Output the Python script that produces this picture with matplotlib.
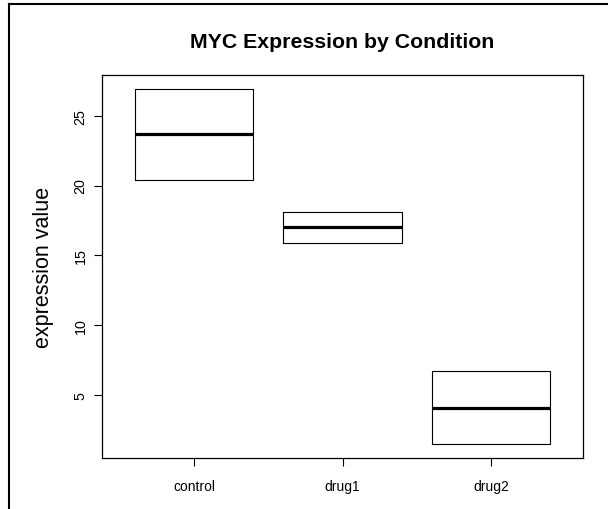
import matplotlib
matplotlib.use("Agg")
import matplotlib.pyplot as plt
from matplotlib.lines import Line2D

plt.rcParams["font.family"] = ["Liberation Sans", "DejaVu Sans"]

# Expression summary per condition
conditions = ["control", "drug1", "drug2"]
lower_hinge = [20.4, 15.9, 1.5]
median = [23.7, 17.0, 4.1]
upper_hinge = [26.9, 18.1, 6.7]
y_ticks = [5, 10, 15, 20, 25]

W, H, DPI = 608, 510, 100
fig = plt.figure(figsize=(W / DPI, H / DPI), dpi=DPI)
fig.patch.set_facecolor("white")

# plot region in pixels
left, right, top, bottom = 102, 583, 76, 459
ax = fig.add_axes([left / W, 1 - bottom / H, (right - left) / W, (bottom - top) / H])

stats = []
for name, lo, md, hi in zip(conditions, lower_hinge, median, upper_hinge):
    stats.append(dict(label=name, q1=lo, med=md, q3=hi, whislo=lo, whishi=hi, fliers=[]))

positions = list(range(1, len(conditions) + 1))
ax.bxp(stats, positions=positions, widths=0.8, showcaps=False, showfliers=False,
       boxprops=dict(color="black", linewidth=0.8),
       whiskerprops=dict(color="black", linewidth=0.0),
       medianprops=dict(color="black", linewidth=2.3, solid_capstyle="butt"))

# axis ranges padded by 4% like base graphics
ymin, ymax = min(lower_hinge), max(upper_hinge)
pad = 0.04 * (ymax - ymin)
ax.set_ylim(ymin - pad, ymax + pad)
xmin, xmax = 0.5, len(conditions) + 0.5
xpad = 0.04 * (xmax - xmin)
ax.set_xlim(xmin - xpad, xmax + xpad)

ax.set_xticks(positions)
ax.set_xticklabels(conditions, fontsize=10)
ax.set_yticks(y_ticks)
ax.set_yticklabels([str(t) for t in y_ticks], fontsize=10.3, rotation=90, va="center")
ax.tick_params(direction="out", length=5.5, width=0.8, color="black")
ax.tick_params(axis="y", pad=5)
ax.tick_params(axis="x", pad=9.5)
for s in ax.spines.values():
    s.set_linewidth(0.9)
    s.set_color("black")

ax.set_ylabel("expression value", fontsize=15.5, labelpad=14)
fig.text((left + right) / 2 / W, 1 - 42 / H, "MYC Expression by Condition",
         ha="center", va="center", fontsize=15.3, fontweight="bold")

# outer frame along top and left edges
fig.add_artist(Line2D([8.5 / W, 1.0], [1 - 4.5 / H, 1 - 4.5 / H], color="black", linewidth=1.5,
                      transform=fig.transFigure))
fig.add_artist(Line2D([8.5 / W, 8.5 / W], [0.0, 1 - 4.5 / H], color="black", linewidth=1.5,
                      transform=fig.transFigure))

fig.savefig("out.png", dpi=DPI)
